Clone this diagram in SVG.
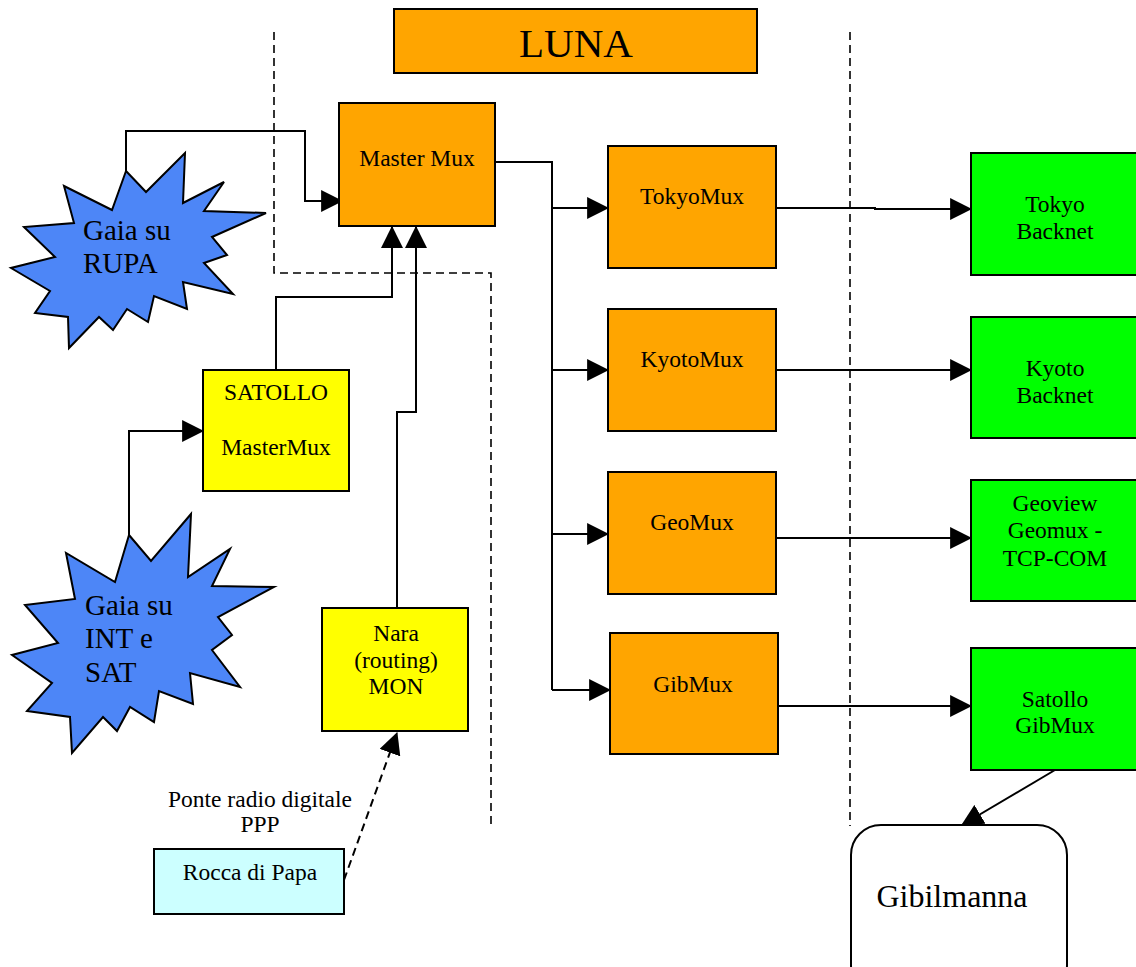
<svg xmlns="http://www.w3.org/2000/svg" width="1136" height="967" viewBox="0 0 1136 967">
<defs>
<marker id="ah" markerUnits="userSpaceOnUse" markerWidth="22" markerHeight="22" viewBox="0 0 20 20" refX="19" refY="10" orient="auto">
<path d="M0,0 L20,10 L0,20 Z" fill="#000"/>
</marker>
</defs>
<style>
text{font-family:"Liberation Serif","Times New Roman",serif;fill:#000;text-anchor:middle}
.t{font-size:23.5px}
.st{font-size:29px;text-anchor:start}
.box{stroke:#000;stroke-width:2}
.or{fill:#FFA500}
.gr{fill:#00FF00}
.ye{fill:#FFFF00}
.cy{fill:#CCFFFF}
.star{fill:#4D86F7;stroke:#000;stroke-width:2;stroke-linejoin:miter}
.ln{fill:none;stroke:#000;stroke-width:2}
.dash{fill:none;stroke:#000;stroke-width:1.6;stroke-dasharray:8,5}
</style>

<g id="boundaries">
<path class="dash" d="M274,32 V273 H491 V826"/>
<path class="dash" d="M850,32 V826"/>
</g>

<g id="connectors">
<path class="ln" d="M126,171 V131 H305 V201 H342" marker-end="url(#ah)"/>
<path class="ln" d="M276,370 V297 H392 V227" marker-end="url(#ah)"/>
<path class="ln" d="M397,608 V412 H416 V227" marker-end="url(#ah)"/>
<path class="ln" d="M129,535 V431 H203" marker-end="url(#ah)"/>
<path class="ln" d="M495,162 H552 V690"/>
<path class="ln" d="M552,208 H608" marker-end="url(#ah)"/>
<path class="ln" d="M552,370 H608" marker-end="url(#ah)"/>
<path class="ln" d="M552,534 H608" marker-end="url(#ah)"/>
<path class="ln" d="M552,690 H610" marker-end="url(#ah)"/>
<path class="ln" d="M776,208 H875 V209 H971" marker-end="url(#ah)"/>
<path class="ln" d="M776,370 H971" marker-end="url(#ah)"/>
<path class="ln" d="M776,538 H971" marker-end="url(#ah)"/>
<path class="ln" d="M778,706 H971" marker-end="url(#ah)"/>
<path class="ln" d="M1055,770 L962,825" marker-end="url(#ah)"/>
<path class="ln" d="M344,880 L397,733" stroke-dasharray="8,5" marker-end="url(#ah)"/>
</g>

<g id="luna">
<rect class="box or" x="394" y="9" width="363" height="64"/>
<text x="576" y="57" style="font-size:41px">LUNA</text>
</g>

<g id="gaia-rupa">
<polygon class="star" points="126,171 146,192 185,153 183,203 224,182 204,211 266,213 212,237 227,255 204,263 233,294 183,282 187,309 154,296 148,322 127,309 113,330 99,317 69,348 68,317 35,313 50,291 11,268 55,257 24,227 74,223 64,186 112,210"/>
<text class="st" x="83" y="240">Gaia su</text>
<text class="st" x="83" y="273">RUPA</text>
</g>

<g id="gaia-int-sat">
<polygon class="star" points="129,535 151,561 191,514 188,577 230,549 212,586 274,587 218,617 232,635 212,650 240,687 190,673 193,704 159,691 154,722 130,707 117,731 103,717 72,753 70,717 27,711 52,683 12,655 58,643 25,605 75,599 66,553 115,582"/>
<text class="st" x="85" y="615">Gaia su</text>
<text class="st" x="85" y="648">INT e</text>
<text class="st" x="85" y="682">SAT</text>
</g>

<g id="master-mux">
<rect class="box or" x="339" y="103" width="156" height="123"/>
<text class="t" x="417" y="166">Master Mux</text>
</g>

<g id="satollo-mastermux">
<rect class="box ye" x="203" y="370" width="146" height="121"/>
<text class="t" x="276" y="400">SATOLLO</text>
<text class="t" x="276" y="455">MasterMux</text>
</g>

<g id="nara">
<rect class="box ye" x="322" y="608" width="146" height="123"/>
<text class="t" x="396" y="641">Nara</text>
<text class="t" x="396" y="668">(routing)</text>
<text class="t" x="396" y="694">MON</text>
</g>

<g id="rocca-di-papa">
<rect class="box cy" x="154" y="849" width="190" height="65"/>
<text class="t" x="250" y="880">Rocca di Papa</text>
</g>

<g id="ponte-label">
<text class="t" x="260" y="807">Ponte radio digitale</text>
<text class="t" x="260" y="832">PPP</text>
</g>

<g id="tokyomux">
<rect class="box or" x="608" y="146" width="168" height="122"/>
<text class="t" x="692" y="204">TokyoMux</text>
</g>
<g id="kyotomux">
<rect class="box or" x="608" y="309" width="168" height="122"/>
<text class="t" x="692" y="367">KyotoMux</text>
</g>
<g id="geomux">
<rect class="box or" x="608" y="472" width="168" height="122"/>
<text class="t" x="692" y="530">GeoMux</text>
</g>
<g id="gibmux">
<rect class="box or" x="610" y="633" width="168" height="121"/>
<text class="t" x="693" y="692">GibMux</text>
</g>

<g id="tokyo-backnet">
<rect class="box gr" x="971" y="153" width="170" height="122"/>
<text class="t" x="1055" y="212">Tokyo</text>
<text class="t" x="1055" y="239">Backnet</text>
</g>
<g id="kyoto-backnet">
<rect class="box gr" x="971" y="317" width="170" height="121"/>
<text class="t" x="1055" y="376">Kyoto</text>
<text class="t" x="1055" y="403">Backnet</text>
</g>
<g id="geoview">
<rect class="box gr" x="971" y="480" width="170" height="121"/>
<text class="t" x="1055" y="511">Geoview</text>
<text class="t" x="1055" y="538">Geomux -</text>
<text class="t" x="1055" y="566">TCP-COM</text>
</g>
<g id="satollo-gibmux">
<rect class="box gr" x="971" y="648" width="170" height="122"/>
<text class="t" x="1055" y="707">Satollo</text>
<text class="t" x="1055" y="733">GibMux</text>
</g>

<g id="gibilmanna">
<rect class="box" fill="#fff" x="851" y="825" width="216" height="170" rx="30" ry="30"/>
<text x="952" y="907" style="font-size:32px">Gibilmanna</text>
</g>
</svg>
